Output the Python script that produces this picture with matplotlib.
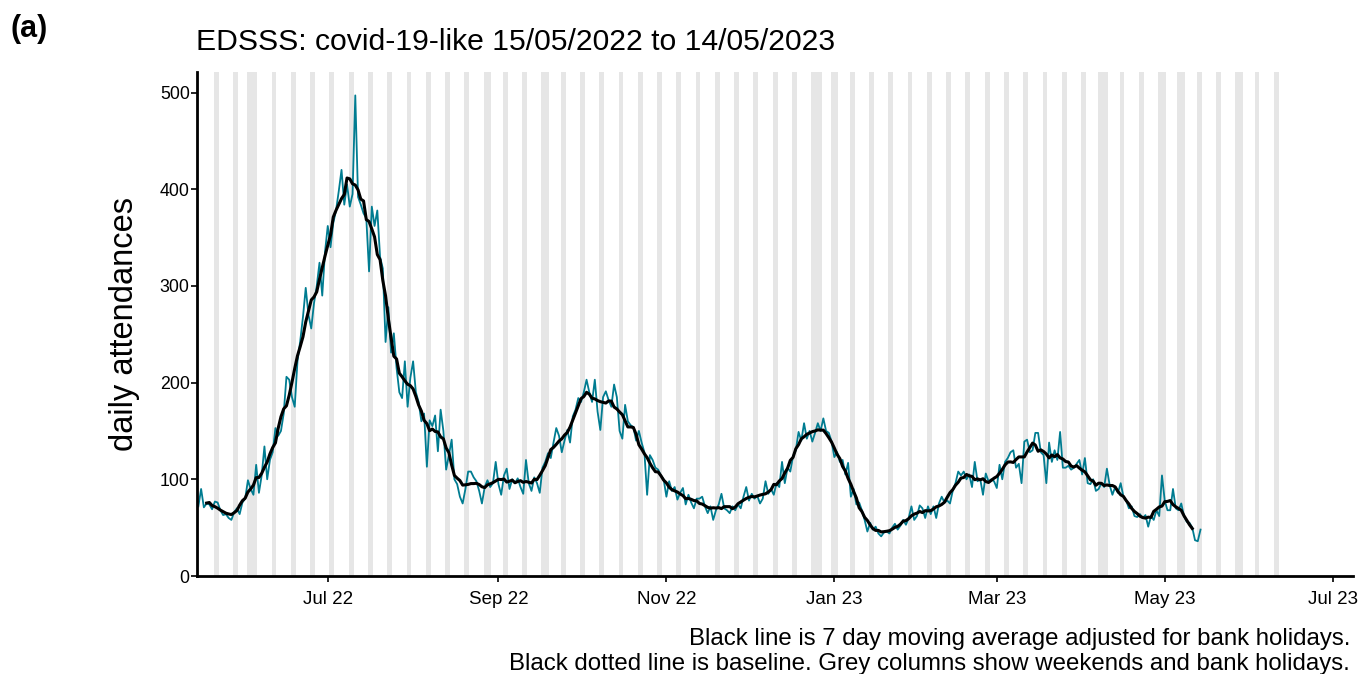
import datetime as dt
import numpy as np
import pandas as pd
import matplotlib
matplotlib.use("Agg")
import matplotlib.pyplot as plt
import matplotlib.dates as mdates

plt.rcParams["font.family"] = ["Liberation Sans", "DejaVu Sans"]

# Daily covid-19-like ED attendances, 15/05/2022 to 14/05/2023 (one row per week, Sun..Sat)
start_date = dt.date(2022, 5, 15)
daily_counts = [
    72, 90, 71, 75, 74, 69, 77,
    76, 68, 63, 64, 60, 58, 66,
    70, 64, 76, 80, 99, 90, 84,
    115, 86, 104, 134, 100, 120, 128,
    153, 145, 150, 168, 206, 203, 185,
    175, 222, 243, 268, 298, 270, 256,
    282, 300, 324, 290, 335, 362, 340,
    365, 378, 398, 420, 384, 405, 382,
    395, 497, 392, 384, 375, 370, 315,
    382, 362, 378, 330, 318, 242, 278,
    231, 251, 215, 190, 184, 222, 175,
    205, 222, 190, 180, 160, 168, 113,
    161, 155, 166, 129, 172, 150, 110,
    125, 141, 100, 95, 82, 75, 90,
    108, 108, 102, 98, 88, 75, 92,
    99, 92, 96, 118, 95, 84, 104,
    111, 90, 100, 96, 101, 92, 85,
    120, 96, 88, 102, 96, 86, 112,
    118, 127, 122, 138, 153, 145, 128,
    140, 151, 138, 165, 172, 184, 180,
    190, 203, 190, 180, 203, 170, 151,
    185, 191, 182, 175, 198, 185, 150,
    142, 177, 160, 156, 154, 140, 150,
    138, 128, 84, 125, 120, 112, 110,
    104, 100, 82, 98, 88, 92, 79,
    86, 91, 74, 84, 76, 70, 80,
    80, 82, 72, 65, 72, 58, 68,
    74, 85, 70, 68, 65, 72, 68,
    74, 70, 82, 92, 78, 85, 80,
    83, 75, 80, 98, 85, 90, 84,
    96, 92, 118, 96, 112, 108, 124,
    130, 149, 140, 158, 142, 150, 139,
    148, 158, 150, 163, 150, 148, 139,
    123, 128, 118, 120, 105, 117, 82,
    90, 74, 76, 68, 58, 46, 55,
    48, 51, 44, 41, 45, 46, 44,
    50, 54, 48, 52, 58, 53, 60,
    72, 58, 62, 73, 70, 60, 72,
    64, 72, 60, 75, 82, 76, 78,
    75, 88, 96, 108, 104, 108, 100,
    105, 92, 118, 98, 100, 84, 106,
    98, 100, 98, 91, 115, 100, 118,
    122, 128, 130, 112, 116, 96, 139,
    141, 128, 130, 148, 148, 128, 125,
    96, 138, 118, 130, 120, 149, 112,
    112, 114, 110, 112, 116, 120, 105,
    122, 96, 95, 100, 88, 90, 96,
    92, 111, 94, 84, 92, 86, 96,
    82, 78, 70, 72, 62, 61, 64,
    60, 63, 51, 62, 58, 68, 62,
    104, 78, 68, 68, 90, 70, 68,
    75, 62, 56, 55, 50, 37, 36,
    48,
]

bank_holidays = [
    "2022-06-02", "2022-06-03", "2022-08-29", "2022-09-19",
    "2022-12-26", "2022-12-27", "2023-01-02", "2023-04-07",
    "2023-04-10", "2023-05-01", "2023-05-08", "2023-05-29",
]
shade_end = "2023-06-11"

tick_dates = ["2022-07-01", "2022-09-01", "2022-11-01", "2023-01-01",
              "2023-03-01", "2023-05-01", "2023-07-01"]

title_text = "EDSSS: covid-19-like 15/05/2022 to 14/05/2023"
footer_lines = [
    "Black line is 7 day moving average adjusted for bank holidays.",
    "Black dotted line is baseline. Grey columns show weekends and bank holidays.",
]

# ---- derived series ----
dates = pd.date_range(start_date, periods=len(daily_counts), freq="D")
counts = pd.Series(daily_counts, index=dates, dtype=float)
moving_avg = counts.rolling(7, center=True).mean()

x_dates = mdates.date2num(dates.to_pydatetime())

# weekend / bank holiday days, merged into contiguous runs
shade_days = pd.date_range(start_date, shade_end, freq="D")
hol = set(pd.to_datetime(bank_holidays))
is_shaded = [(d.weekday() >= 5) or (d in hol) for d in shade_days]
runs = []
run_start = None
for d, flag in zip(shade_days, is_shaded):
    if flag and run_start is None:
        run_start = d
        run_end = d
    elif flag:
        run_end = d
    elif run_start is not None:
        runs.append((run_start, run_end))
        run_start = None
if run_start is not None:
    runs.append((run_start, run_end))

# ---- figure ----
fig = plt.figure(figsize=(13.63, 6.74), dpi=100)
ax = fig.add_axes([0.1448, 0.1454, 0.9927 - 0.1448, 0.8936 - 0.1454])

for a, b in runs:
    ax.axvspan(mdates.date2num(a) - 0.38, mdates.date2num(b) + 0.38,
               color="#e6e6e6", lw=0, zorder=0)

ax.plot(x_dates, counts.values, color="#007c91", lw=1.3, zorder=2)
ax.plot(x_dates, moving_avg.values, color="black", lw=2.2, zorder=3)

x0 = mdates.date2num(dt.datetime(2022, 5, 15))
ax.set_xlim(x0 - 0.36, x0 + 419.4)
ax.set_ylim(0, 521.5)

ax.set_xticks(mdates.date2num(pd.to_datetime(tick_dates).to_pydatetime()))
ax.xaxis.set_major_formatter(mdates.DateFormatter("%b %y"))
ax.set_yticks([0, 100, 200, 300, 400, 500])

for side in ("top", "right"):
    ax.spines[side].set_visible(False)
for side in ("left", "bottom"):
    ax.spines[side].set_linewidth(2.0)
    ax.spines[side].set_color("black")
ax.tick_params(axis="both", direction="out", length=4, width=1.2,
               colors="black", labelcolor="black")
ax.tick_params(axis="x", labelsize=13.5, pad=7)
ax.tick_params(axis="y", labelsize=12.8, pad=1.5)

ax.set_ylabel("daily attendances", fontsize=23.5, labelpad=14)

fig.text(196 / 1363, 1 - 50 / 674, title_text, fontsize=21.7, ha="left",
         va="baseline")
fig.text(10 / 1363, 1 - 37 / 674, "(a)", fontsize=22, fontweight="bold",
         ha="left", va="baseline")
fig.text(1350 / 1363, 1 - 645 / 674, footer_lines[0], fontsize=17.3,
         ha="right", va="baseline")
fig.text(1350 / 1363, 1 - 670 / 674, footer_lines[1], fontsize=17.3,
         ha="right", va="baseline")

fig.savefig("out.png", dpi=100)
